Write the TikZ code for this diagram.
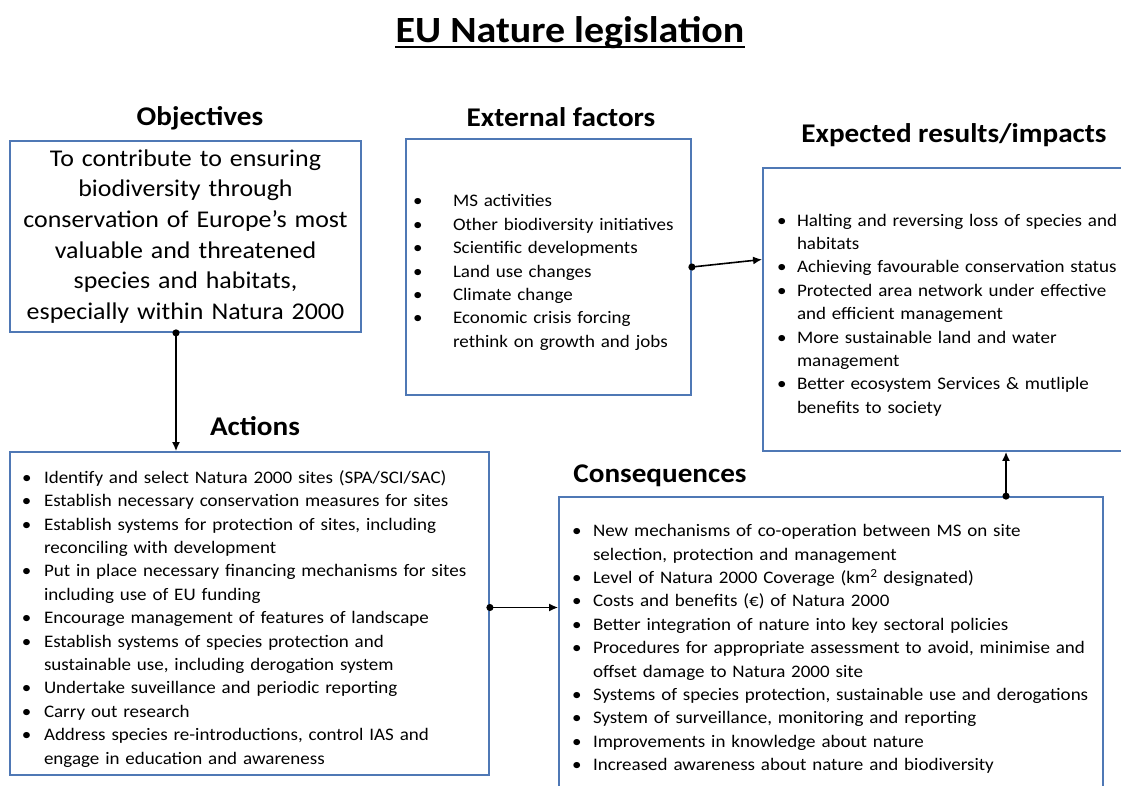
\documentclass[tikz,border=0pt]{standalone}
\usepackage{fontspec}
\setmainfont{Carlito}[FakeStretch=1.08]
\usepackage{enumitem}
\usetikzlibrary{arrows.meta}
\definecolor{boxblue}{HTML}{4F78B5}
\setlist[itemize]{label=\textbullet, align=left, itemsep=0pt, topsep=0pt, parsep=0pt, partopsep=0pt}
\newcommand{\bodysize}{\fontsize{17.6}{23.4}\selectfont}

\begin{document}
\begin{tikzpicture}[x=1pt, y=-1pt,
  box/.style={draw=boxblue, line width=1.8pt, rectangle, inner ysep=0pt, font=\bodysize, align=left},
  head/.style={font=\fontsize{27}{30}\selectfont\bfseries, inner sep=0pt, anchor=base},
  link/.style={line width=1.6pt, shorten <=-3.5pt, {Circle[length=7pt]}-{Latex[length=9pt,width=8pt]}}]
\useasboundingbox (0,0) rectangle (1121,786);

\node[font=\fontsize{37}{40}\selectfont\bfseries, inner sep=0pt, anchor=base] (title) at (570,43) {EU Nature legislation};
\draw[line width=1.8pt] ([yshift=-4pt]title.base west) -- ([yshift=-4pt]title.base east);

\node[head] (objH) at (200,126) {Objectives};
\node[head] (extH) at (561,127) {External factors};
\node[head] (expH) at (954,143) {Expected results/impacts};
\node[head] (actH) at (255,435) {Actions};
\node[head] (conH) at (660,482) {Consequences};

\node[box, align=center, font=\fontsize{24}{30.7}\selectfont, minimum width=351pt, minimum height=191pt, text width=331pt] (obj) at (185.5,236.5)
  {To contribute to ensuring\\ biodiversity through\\ conservation of  Europe's most\\ valuable and threatened\\ species and habitats,\\ especially within Natura 2000};

\node[box, minimum width=285pt, minimum height=256pt, inner xsep=7pt, text width=271pt] (ext) at (548.5,267)
  {\begin{itemize}[left=0pt..40pt]
  \item MS activities
  \item Other biodiversity initiatives
  \item Scientific developments
  \item Land use changes
  \item Climate change
  \item Economic crisis forcing\\ rethink on growth and jobs
  \end{itemize}};

\node[box, minimum width=372pt, minimum height=283pt, inner xsep=14pt, text width=344pt] (exp) at (949,309.5)
  {\begin{itemize}[left=0pt..20pt]
  \item Halting and reversing loss of species and\\ habitats
  \item Achieving favourable conservation status
  \item Protected area network under effective\\ and efficient management
  \item More sustainable land and water\\ management
  \item Better ecosystem Services \& mutliple\\ benefits to society
  \end{itemize}};

\node[box, minimum width=479pt, minimum height=323pt, inner xsep=12pt, text width=455pt] (act) at (249.5,613.5)
  {\begin{itemize}[left=0pt..22pt]
  \item Identify and select Natura 2000 sites (SPA/SCI/SAC)
  \item Establish necessary conservation measures for sites
  \item Establish systems for protection of sites, including\\ reconciling with development
  \item Put in place necessary financing mechanisms  for sites\\ including use of EU funding
  \item Encourage management of features of landscape
  \item Establish systems of species protection and\\ sustainable use, including derogation system
  \item Undertake suveillance and periodic reporting
  \item Carry out research
  \item Address species re-introductions, control IAS and\\ engage in education and awareness
  \end{itemize}};

\node[box, minimum width=544pt, minimum height=293pt, inner xsep=13pt, text width=518pt] (con) at (831,643.5)
  {\begin{itemize}[left=0pt..21pt]
  \item New mechanisms of co-operation between MS on site\\ selection, protection and management
  \item Level of Natura 2000 Coverage (km\textsuperscript{2} designated)
  \item Costs and benefits (€) of Natura 2000
  \item Better integration of nature into key sectoral policies
  \item Procedures for appropriate assessment to avoid, minimise and\\ offset damage to Natura 2000 site
  \item Systems of species protection, sustainable use and derogations
  \item System of surveillance, monitoring and reporting
  \item Improvements in knowledge about nature
  \item Increased awareness about nature and biodiversity
  \end{itemize}};

\draw[link] (obj.south -| 176,0) -- (act.north -| 176,0);
\draw[link] (ext.east) -- ([yshift=50pt]exp.west);
\draw[link] ([yshift=6pt]act.east) coordinate (a1) -- (a1 -| con.west);
\draw[link] (con.north -| 1006,0) -- (exp.south -| 1006,0);
\end{tikzpicture}
\end{document}
